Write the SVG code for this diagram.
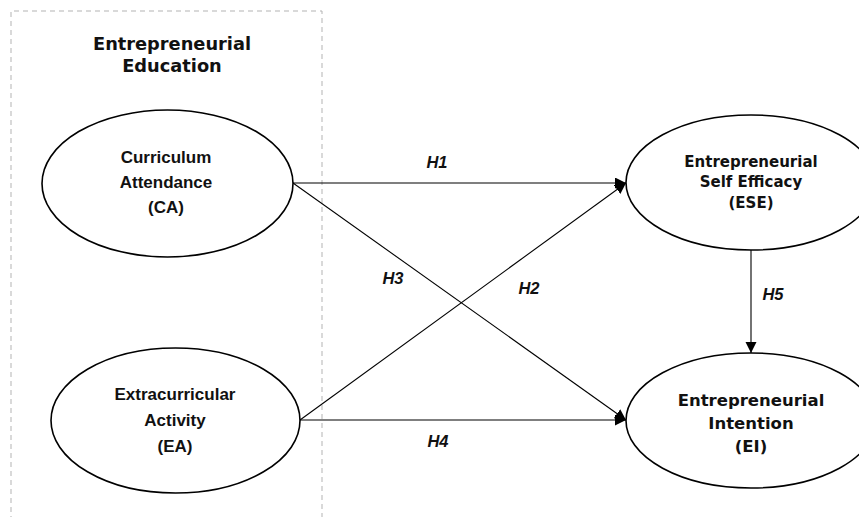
<svg xmlns="http://www.w3.org/2000/svg" width="859" height="517" viewBox="0 0 859 517">
<style>
.node ellipse{fill:#fff;stroke:#000;stroke-width:1.6}
.cal{font-family:"Liberation Sans",Arial,sans-serif;font-weight:bold;font-size:17px;fill:#111;text-anchor:middle}
.tah{font-family:"DejaVu Sans",Verdana,sans-serif;font-weight:bold;fill:#111;text-anchor:middle}
.lbl{font-family:"Liberation Sans",Arial,sans-serif;font-weight:bold;font-style:italic;font-size:16.5px;fill:#111;text-anchor:middle}
.conn line{stroke:#000;stroke-width:1.1;marker-end:url(#ah)}
</style>
<defs>
<marker id="ah" markerUnits="userSpaceOnUse" markerWidth="12" markerHeight="12" refX="11" refY="5.5" orient="auto">
<path d="M0,0 L11,5.5 L0,11 Z" fill="#000"/>
</marker>
</defs>
<rect width="859" height="517" fill="#fff"/>
<g id="group-box">
<path d="M11,530 V11 H322 V530" fill="none" stroke="#b3b3b3" stroke-width="1" stroke-dasharray="5,4"/>
<text class="tah" x="172" y="50" font-size="17.8">Entrepreneurial</text>
<text class="tah" x="172" y="72" font-size="17.8">Education</text>
</g>
<g id="connectors" class="conn">
<line x1="293" y1="183" x2="626" y2="183"/>
<line x1="293" y1="183" x2="626" y2="420"/>
<line x1="300" y1="420" x2="626" y2="183"/>
<line x1="300" y1="420" x2="626" y2="420"/>
<line x1="751" y1="250" x2="751" y2="353"/>
</g>
<g id="labels">
<text class="lbl" x="437" y="168">H1</text>
<text class="lbl" x="393" y="284">H3</text>
<text class="lbl" x="529" y="294">H2</text>
<text class="lbl" x="438" y="447">H4</text>
<text class="lbl" x="773" y="300">H5</text>
</g>
<g id="CA" class="node">
<ellipse cx="167.5" cy="183.5" rx="125.5" ry="73.5"/>
<text class="cal" x="166" y="163">Curriculum</text>
<text class="cal" x="166" y="188">Attendance</text>
<text class="cal" x="166" y="213">(CA)</text>
</g>
<g id="EA" class="node">
<ellipse cx="175.5" cy="420.5" rx="124.5" ry="72.5"/>
<text class="cal" x="175" y="400">Extracurricular</text>
<text class="cal" x="175" y="426">Activity</text>
<text class="cal" x="175" y="452">(EA)</text>
</g>
<g id="ESE" class="node">
<ellipse cx="751" cy="182.5" rx="125" ry="67.5"/>
<text class="tah" x="751" y="167" font-size="15">Entrepreneurial</text>
<text class="tah" x="751" y="187" font-size="15">Self Efficacy</text>
<text class="tah" x="751" y="208" font-size="15">(ESE)</text>
</g>
<g id="EI" class="node">
<ellipse cx="751" cy="420.5" rx="125" ry="67.5"/>
<text class="tah" x="751" y="406" font-size="16.5">Entrepreneurial</text>
<text class="tah" x="751" y="429" font-size="16.5">Intention</text>
<text class="tah" x="751" y="452" font-size="16.5">(EI)</text>
</g>
</svg>
